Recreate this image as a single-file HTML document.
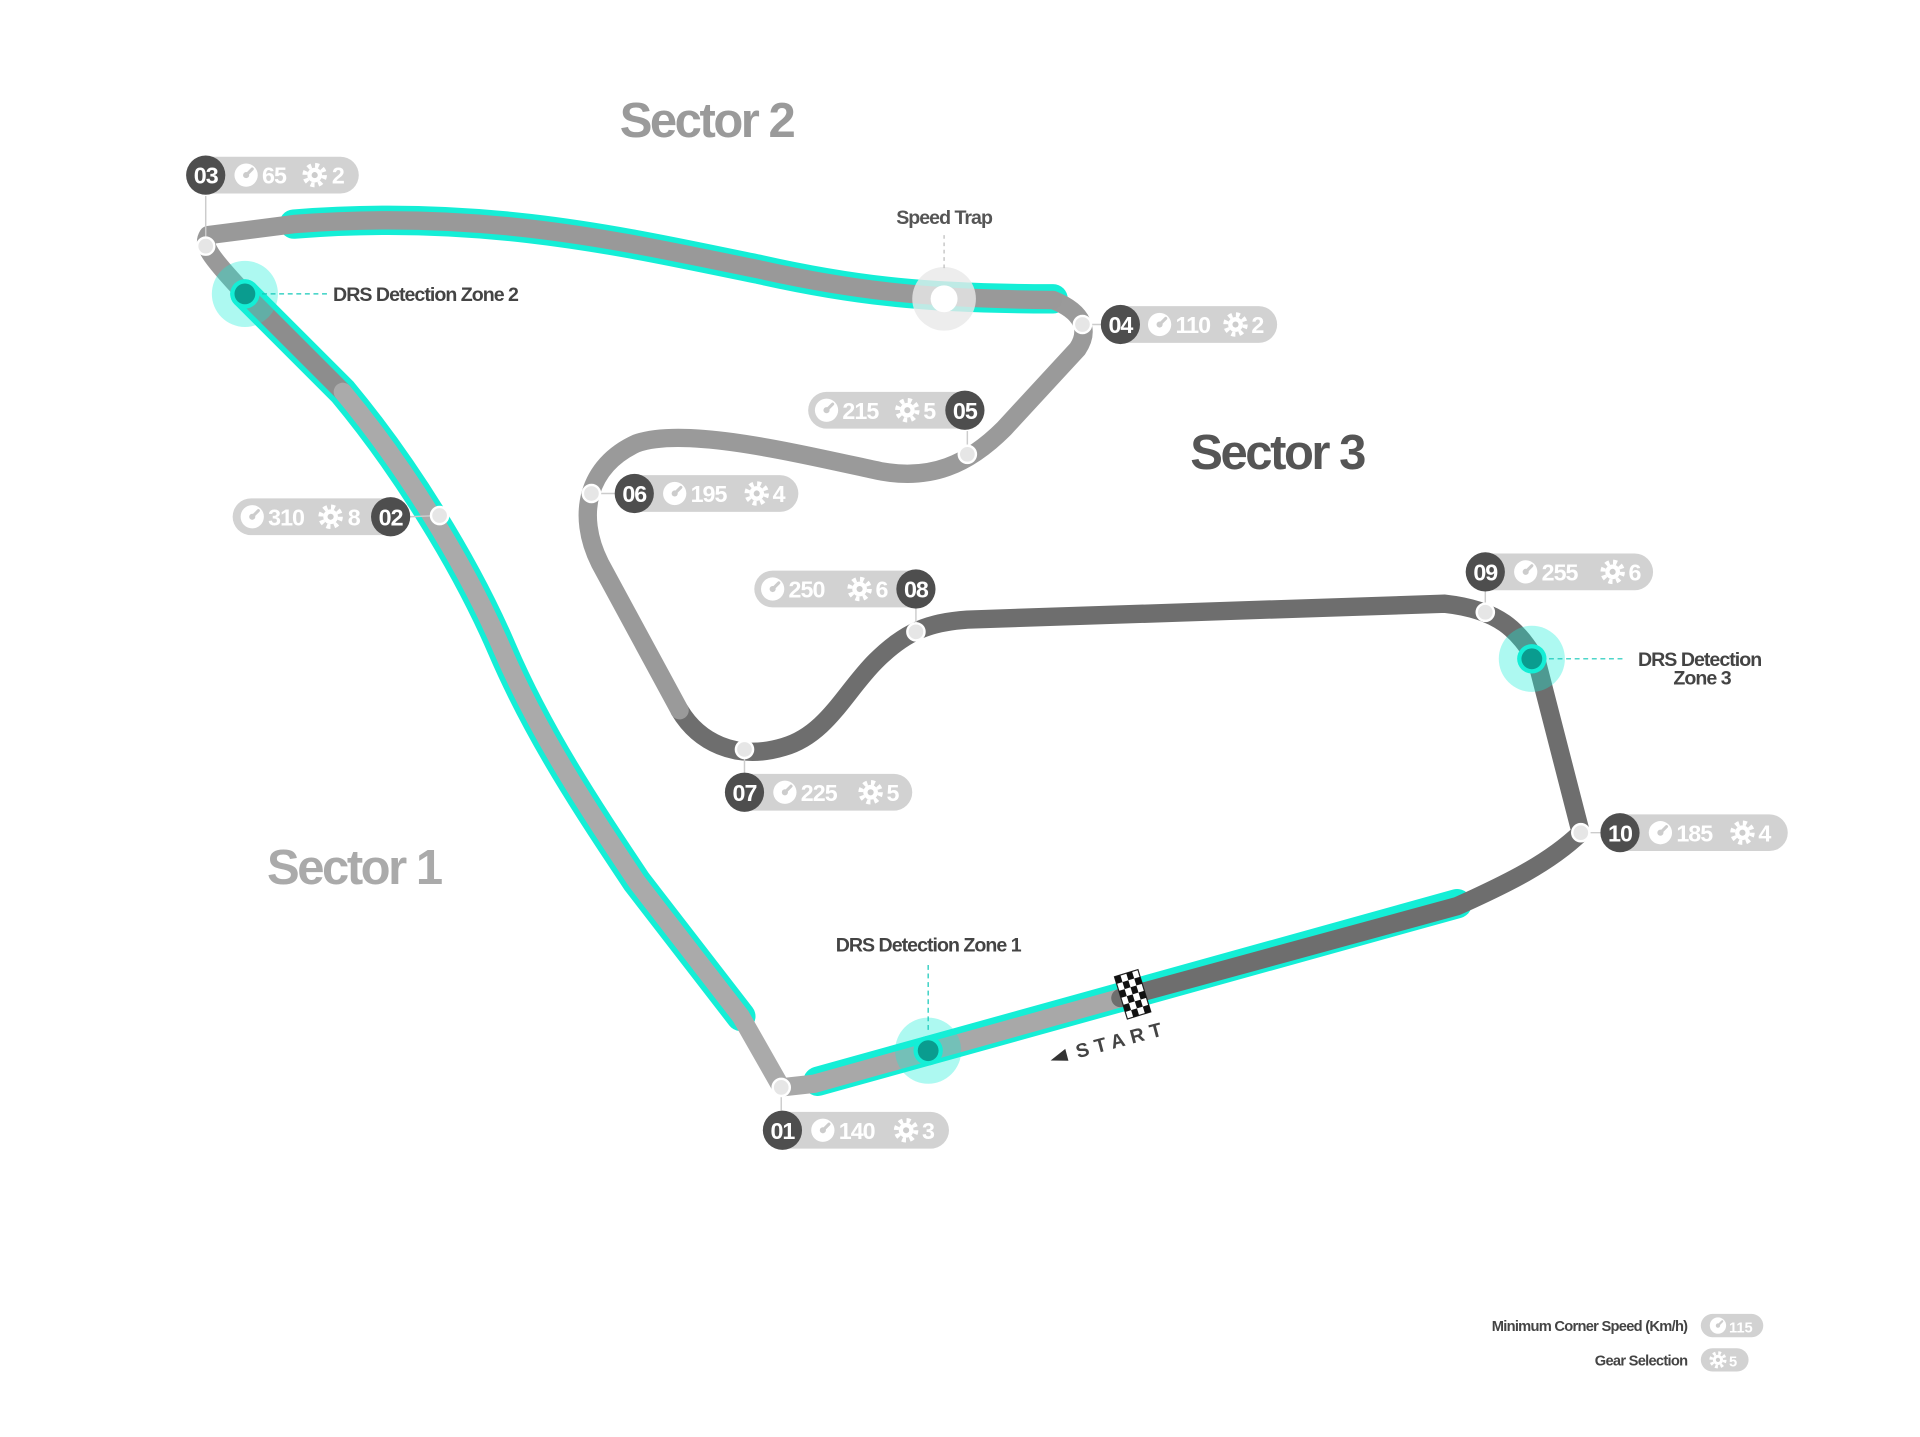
<!DOCTYPE html>
<html><head><meta charset="utf-8"><style>
html,body{margin:0;padding:0;background:#fff}
svg{display:block}
text{font-family:"Liberation Sans",sans-serif;font-weight:bold}
</style></head><body>
<svg width="1920" height="1437" viewBox="0 0 1568 1173.5" preserveAspectRatio="none" xmlns="http://www.w3.org/2000/svg">
<defs>
<g id="spd"><circle r="9.5" fill="#fff"/><path d="M0,0 L5,-5" stroke="#ccc" stroke-width="2.5" stroke-linecap="round"/><circle r="2.5" fill="#ccc"/></g>
<g id="gear"><circle r="8" fill="none" stroke="#fff" stroke-width="4" stroke-dasharray="3.2 3.1"/><circle r="6" fill="#fff"/><circle r="2.5" fill="#ccc"/></g>
</defs>

<text x="577" y="112" font-size="40" fill="#9a9a9a" text-anchor="middle" letter-spacing="-2">Sector 2</text>
<text x="1043" y="383" font-size="40" fill="#555" text-anchor="middle" letter-spacing="-2">Sector 3</text>
<text x="289" y="722" font-size="40" fill="#aaa" text-anchor="middle" letter-spacing="-2">Sector 1</text>

<g fill="none" stroke="#14eed6" stroke-width="24" stroke-linecap="round">
<path d="M240,183 C400,170 520,200 620,220 C700,238 760,244 860,244"/>
<path d="M200,240 L280,320 C330,380 380,460 410,530 C440,600 480,660 520,720 L605,830"/>
<path d="M668,883 L1190,738"/>
</g>

<g fill="none" stroke-width="15" stroke-linecap="round" stroke-linejoin="round">
<path d="M638,888 L665,885 L915,815" stroke="#a8a8a8"/>
<path d="M915,815 L1190,740 C1230,722 1265,705 1291,680 L1255,540 C1240,515 1225,498 1180,493 L790,506 C760,508 740,515 715,540 C690,565 675,600 640,610 C600,622 570,605 555,580" stroke="#6e6e6e"/>
<path d="M555,580 L490,460 C470,420 480,380 520,362 C560,348 650,370 720,385 C760,392 790,380 820,350 L880,285 C890,270 885,255 860,245" stroke="#9a9a9a"/>
<path d="M860,245 C760,244 700,238 620,220 C520,200 400,170 240,183 L170,192 C165,200 170,208 200,240" stroke="#999"/>
<path d="M200,240 L280,320" stroke="#8d8d8d"/>
<path d="M280,320 C330,380 380,460 410,530 C440,600 480,660 520,720 L605,830 L638,888" stroke="#aaa"/>
</g>

<g stroke="#ccc" stroke-width="1.2">
<line x1="168" y1="160" x2="168" y2="200"/>
<line x1="335" y1="422" x2="359" y2="421"/>
<line x1="884" y1="265" x2="899" y2="265"/>
<line x1="790" y1="352" x2="790" y2="371"/>
<line x1="483" y1="403" x2="502" y2="403"/>
<line x1="748" y1="497" x2="748" y2="516"/>
<line x1="608" y1="612" x2="608" y2="631"/>
<line x1="1213" y1="483" x2="1213" y2="500"/>
<line x1="1291" y1="680" x2="1307" y2="680"/>
<line x1="638" y1="888" x2="638" y2="907"/>
</g>

<g fill="#e6e6e6" stroke="#fff" stroke-width="2">
<circle cx="168" cy="201" r="7"/><circle cx="884" cy="265" r="7"/><circle cx="790" cy="371" r="7"/>
<circle cx="483" cy="403" r="7"/><circle cx="359" cy="421" r="7"/><circle cx="748" cy="516" r="7"/>
<circle cx="608" cy="612" r="7"/><circle cx="1213" cy="500" r="7"/><circle cx="1291" cy="680" r="7"/>
<circle cx="638" cy="888" r="7"/>
</g>

<circle cx="771" cy="244" r="26" fill="#e8e8e8" opacity="0.8"/>
<circle cx="771" cy="244" r="11" fill="#fff"/>
<line x1="771" y1="192" x2="771" y2="222" stroke="#bbb" stroke-dasharray="3 3"/>
<text x="771" y="183" font-size="16" fill="#555" text-anchor="middle" letter-spacing="-0.8">Speed Trap</text>

<g>
<circle cx="200" cy="240" r="27" fill="#14eed6" opacity="0.35"/><circle cx="200" cy="240" r="12" fill="#14eed6"/><circle cx="200" cy="240" r="8.5" fill="#0a9c8f"/>
<line x1="214" y1="240" x2="268" y2="240" stroke="#14c8b8" stroke-dasharray="4 3"/>
<text x="272" y="246" font-size="16" fill="#444" letter-spacing="-0.8">DRS Detection Zone 2</text>

<circle cx="758" cy="858" r="27" fill="#14eed6" opacity="0.35"/><circle cx="758" cy="858" r="12" fill="#14eed6"/><circle cx="758" cy="858" r="8.5" fill="#0a9c8f"/>
<line x1="758" y1="788" x2="758" y2="844" stroke="#14c8b8" stroke-dasharray="4 3"/>
<text x="758" y="777" font-size="16" fill="#444" text-anchor="middle" letter-spacing="-0.8">DRS Detection Zone 1</text>

<circle cx="1251" cy="538" r="27" fill="#14eed6" opacity="0.35"/><circle cx="1251" cy="538" r="12" fill="#14eed6"/><circle cx="1251" cy="538" r="8.5" fill="#0a9c8f"/>
<line x1="1265" y1="538" x2="1326" y2="538" stroke="#14c8b8" stroke-dasharray="4 3"/>
<text x="1388" y="544" font-size="16" fill="#444" text-anchor="middle" letter-spacing="-0.8">DRS Detection</text>
<text x="1390" y="559" font-size="16" fill="#444" text-anchor="middle" letter-spacing="-0.8">Zone 3</text>
</g>

<g transform="translate(925,812) rotate(-17)">
<rect x="-10" y="-18" width="20" height="36" fill="#fff" stroke="#222" stroke-width="1"/>
<g fill="#111">
<rect x="-10" y="-18" width="5" height="6"/><rect x="0" y="-18" width="5" height="6"/>
<rect x="-5" y="-12" width="5" height="6"/><rect x="5" y="-12" width="5" height="6"/>
<rect x="-10" y="-6" width="5" height="6"/><rect x="0" y="-6" width="5" height="6"/>
<rect x="-5" y="0" width="5" height="6"/><rect x="5" y="0" width="5" height="6"/>
<rect x="-10" y="6" width="5" height="6"/><rect x="0" y="6" width="5" height="6"/>
<rect x="-5" y="12" width="5" height="6"/><rect x="5" y="12" width="5" height="6"/>
</g></g>
<g transform="translate(858,866) rotate(-15)">
<path d="M0,0 L14,-6 L14,4 Z" fill="#333"/>
<text x="22" y="4" font-size="16" fill="#444" letter-spacing="5">START</text>
</g>

<g font-size="19" letter-spacing="-0.8">
<rect x="152" y="128" width="141" height="30" rx="15" fill="#d2d2d2"/>
<circle cx="168" cy="143" r="16" fill="#4e4e4e"/><text x="168" y="150" fill="#fff" text-anchor="middle">03</text>
<use href="#spd" x="201" y="143"/><text x="214" y="150" fill="#fff">65</text><use href="#gear" x="257" y="143"/><text x="271" y="150" fill="#fff">2</text>

<rect x="899" y="250" width="144" height="30" rx="15" fill="#d2d2d2"/>
<circle cx="915" cy="265" r="16" fill="#4e4e4e"/><text x="915" y="272" fill="#fff" text-anchor="middle">04</text>
<use href="#spd" x="947" y="265"/><text x="960" y="272" fill="#fff">110</text><use href="#gear" x="1009" y="265"/><text x="1022" y="272" fill="#fff">2</text>

<rect x="660" y="320" width="144" height="30" rx="15" fill="#d2d2d2"/>
<use href="#spd" x="675" y="335"/><text x="688" y="342" fill="#fff">215</text><use href="#gear" x="741" y="335"/><text x="754" y="342" fill="#fff">5</text>
<circle cx="788" cy="335" r="16" fill="#4e4e4e"/><text x="788" y="342" fill="#fff" text-anchor="middle">05</text>

<rect x="502" y="388" width="150" height="30" rx="15" fill="#d2d2d2"/>
<circle cx="518" cy="403" r="16" fill="#4e4e4e"/><text x="518" y="410" fill="#fff" text-anchor="middle">06</text>
<use href="#spd" x="551" y="403"/><text x="564" y="410" fill="#fff">195</text><use href="#gear" x="618" y="403"/><text x="631" y="410" fill="#fff">4</text>

<rect x="190" y="407" width="145" height="30" rx="15" fill="#d2d2d2"/>
<use href="#spd" x="206" y="422"/><text x="219" y="429" fill="#fff">310</text><use href="#gear" x="270" y="422"/><text x="284" y="429" fill="#fff">8</text>
<circle cx="319" cy="422" r="16" fill="#4e4e4e"/><text x="319" y="429" fill="#fff" text-anchor="middle">02</text>

<rect x="616" y="466" width="148" height="30" rx="15" fill="#d2d2d2"/>
<use href="#spd" x="631" y="481"/><text x="644" y="488" fill="#fff">250</text><use href="#gear" x="702" y="481"/><text x="715" y="488" fill="#fff">6</text>
<circle cx="748" cy="481" r="16" fill="#4e4e4e"/><text x="748" y="488" fill="#fff" text-anchor="middle">08</text>

<rect x="1197" y="452" width="153" height="30" rx="15" fill="#d2d2d2"/>
<circle cx="1213" cy="467" r="16" fill="#4e4e4e"/><text x="1213" y="474" fill="#fff" text-anchor="middle">09</text>
<use href="#spd" x="1246" y="467"/><text x="1259" y="474" fill="#fff">255</text><use href="#gear" x="1317" y="467"/><text x="1330" y="474" fill="#fff">6</text>

<rect x="592" y="632" width="153" height="30" rx="15" fill="#d2d2d2"/>
<circle cx="608" cy="647" r="16" fill="#4e4e4e"/><text x="608" y="654" fill="#fff" text-anchor="middle">07</text>
<use href="#spd" x="641" y="647"/><text x="654" y="654" fill="#fff">225</text><use href="#gear" x="711" y="647"/><text x="724" y="654" fill="#fff">5</text>

<rect x="1307" y="665" width="153" height="30" rx="15" fill="#d2d2d2"/>
<circle cx="1323" cy="680" r="16" fill="#4e4e4e"/><text x="1323" y="687" fill="#fff" text-anchor="middle">10</text>
<use href="#spd" x="1356" y="680"/><text x="1369" y="687" fill="#fff">185</text><use href="#gear" x="1423" y="680"/><text x="1436" y="687" fill="#fff">4</text>

<rect x="623" y="908" width="152" height="30" rx="15" fill="#d2d2d2"/>
<circle cx="639" cy="923" r="16" fill="#4e4e4e"/><text x="639" y="930" fill="#fff" text-anchor="middle">01</text>
<use href="#spd" x="672" y="923"/><text x="685" y="930" fill="#fff">140</text><use href="#gear" x="740" y="923"/><text x="753" y="930" fill="#fff">3</text>
</g>

<text x="1378" y="1087" font-size="12" fill="#444" text-anchor="end" letter-spacing="-0.6">Minimum Corner Speed (Km/h)</text>
<rect x="1389" y="1073" width="51" height="19" rx="9.5" fill="#d2d2d2"/>
<g transform="translate(1403,1082.5) scale(0.7)"><use href="#spd"/></g>
<text x="1412" y="1088" font-size="12" fill="#fff">115</text>
<text x="1378" y="1115" font-size="12" fill="#444" text-anchor="end" letter-spacing="-0.6">Gear Selection</text>
<rect x="1389" y="1101" width="39" height="19" rx="9.5" fill="#d2d2d2"/>
<g transform="translate(1403,1110.5) scale(0.7)"><use href="#gear"/></g>
<text x="1412" y="1116" font-size="12" fill="#fff">5</text>
</svg>
</body></html>
